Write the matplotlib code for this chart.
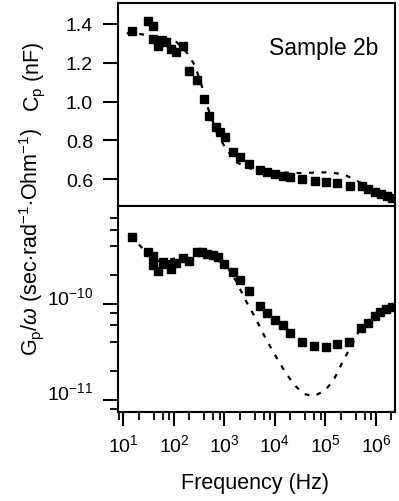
import numpy as np
import matplotlib.pyplot as plt
from matplotlib.ticker import LogLocator, FixedLocator, NullFormatter

plt.rcParams['font.family'] = ['Liberation Sans', 'DejaVu Sans']
plt.rcParams['axes.unicode_minus'] = False
plt.rcParams['mathtext.fontset'] = 'custom'
plt.rcParams['mathtext.rm'] = 'Liberation Sans'
plt.rcParams['mathtext.it'] = 'Liberation Sans:italic'

# capacitance, measured (squares) and model (dashed)
cp_freq = [14.5, 30.1, 38.9, 38.9, 48.9, 57, 69.5, 86, 110, 149, 198, 289, 393, 500,
           679, 815, 1024, 1494, 2027, 3055, 5044, 6850, 1.0e4, 1.46e4, 1.98e4, 3.48e4,
           6.2e4, 1.02e5, 1.71e5, 3.06e5, 5.21e5, 7.04e5, 9.55e5, 1.256e6, 1.63e6, 2.05e6]
cp_meas = [1.362, 1.414, 1.388, 1.323, 1.288, 1.319, 1.309, 1.271, 1.254, 1.288, 1.159,
           1.113, 1.013, 0.927, 0.870, 0.841, 0.815, 0.738, 0.712, 0.677, 0.648, 0.638,
           0.626, 0.617, 0.612, 0.600, 0.591, 0.583, 0.579, 0.562, 0.562, 0.548, 0.534,
           0.523, 0.511, 0.500]
cp_fit_freq = [11.6, 21.2, 52.8, 113, 178, 261, 353, 478, 700, 1024, 1743, 3720, 9270,
               31300, 105000, 225000, 482000, 1.03e6, 2.2e6]
cp_fit = [1.352, 1.348, 1.331, 1.306, 1.254, 1.185, 1.082, 0.961, 0.841, 0.764, 0.686,
          0.648, 0.635, 0.631, 0.635, 0.626, 0.583, 0.540, 0.500]

# conductance / omega, measured and model
gp_freq = [14.9, 30.1, 38.9, 38.9, 48.9, 59.7, 71.6, 86, 110, 149, 201, 282, 353, 443,
           583, 753, 977, 1452, 2027, 3055, 5044, 6850, 1.0e4, 1.46e4, 1.98e4, 3.48e4,
           6.0e4, 1.01e5, 1.71e5, 2.96e5, 5.05e5, 6.85e5, 9.55e5, 1.2e6, 1.56e6, 2.05e6]
gp_meas = [4.98e-10, 3.52e-10, 3.2e-10, 2.58e-10, 2.23e-10, 2.73e-10, 2.62e-10, 2.32e-10,
           2.66e-10, 3.03e-10, 2.83e-10, 3.47e-10, 3.47e-10, 3.33e-10, 3.25e-10, 3.08e-10,
           2.62e-10, 2.14e-10, 1.78e-10, 1.37e-10, 9.46e-11, 8.0e-11, 6.86e-11, 6.04e-11,
           4.98e-11, 3.98e-11, 3.67e-11, 3.53e-11, 3.82e-11, 3.98e-11, 5.57e-11, 6.28e-11,
           7.43e-11, 8.19e-11, 8.87e-11, 9.37e-11]
gp_fit_freq = [13.5, 24.7, 48.9, 113, 241, 516, 1104, 1743, 2754, 4018, 5865, 9270,
               14600, 23000, 36300, 57300, 97700, 143000, 225000, 355000, 482000]
gp_fit = [5.18e-10, 3.76e-10, 2.83e-10, 3.0e-10, 3.41e-10, 3.2e-10, 2.51e-10, 1.69e-10,
          1.04e-10, 7.26e-11, 4.87e-11, 3.13e-11, 2.09e-11, 1.46e-11, 1.15e-11, 1.08e-11,
          1.24e-11, 1.58e-11, 2.56e-11, 3.98e-11, 5.48e-11]

cp_ticks = [0.6, 0.8, 1.0, 1.2, 1.4]

fig = plt.figure(figsize=(3.99, 5.02), dpi=100)
ax1 = fig.add_axes([0.2957, 0.5876, 0.6943, 0.4044])
ax2 = fig.add_axes([0.2957, 0.1773, 0.6943, 0.4103])

dash = (0, (2.2, 3.4))
ax1.plot(cp_fit_freq, cp_fit, color='black', lw=1.6, linestyle=dash)
ax1.plot(cp_freq, cp_meas, 's', color='black', ms=5.2, mec='black')
ax2.plot(gp_fit_freq, gp_fit, color='black', lw=1.6, linestyle=dash)
ax2.plot(gp_freq, gp_meas, 's', color='black', ms=5.2, mec='black')

for ax in (ax1, ax2):
    ax.set_xscale('log')
    ax.set_xlim(7.78, 2.38e6)
    ax.xaxis.set_major_locator(LogLocator(base=10, numticks=10))
    ax.xaxis.set_minor_locator(LogLocator(base=10, subs=(2, 4, 6, 8), numticks=10))
    ax.xaxis.set_minor_formatter(NullFormatter())
    for s in ax.spines.values():
        s.set_linewidth(1.5)
    ax.tick_params(which='major', direction='out', length=10, width=1.5, labelsize=14)
    ax.tick_params(which='minor', direction='out', length=5.5, width=1.3)
    ax.tick_params(axis='y', which='major', length=11, pad=7)

ax1.set_ylim(0.461, 1.508)
ax1.yaxis.set_major_locator(FixedLocator(cp_ticks))
ax1.tick_params(axis='x', labelbottom=False)

ax2.set_yscale('log')
ax2.set_ylim(7.4e-12, 1.06e-9)
ax2.yaxis.set_major_locator(FixedLocator([1e-11, 1e-10]))
ax2.yaxis.set_minor_locator(LogLocator(base=10, subs=(2, 4, 6, 8), numticks=10))
ax2.yaxis.set_minor_formatter(NullFormatter())
ax2.tick_params(axis='x', pad=5)
for lab in ax2.get_yticklabels():
    lab.set_verticalalignment('baseline')

ax1.text(0.94, 0.78, 'Sample 2b', transform=ax1.transAxes, ha='right', va='center',
         fontsize=16.5)

fig.text(0.64, 0.037, 'Frequency (Hz)', ha='center', va='center', fontsize=15.5)
fig.text(0.088, 0.847, r'C$_\mathregular{p}$ (nF)', rotation=90, ha='center', va='center',
         fontsize=15.5)
fig.text(0.078, 0.518,
         r'G$_\mathregular{p}$/$\omega$ (sec$\cdot$rad$^\mathregular{-1}$$\cdot$Ohm$^\mathregular{-1}$)',
         rotation=90, ha='center', va='center', fontsize=15.5)

fig.savefig('out.png', dpi=100)
